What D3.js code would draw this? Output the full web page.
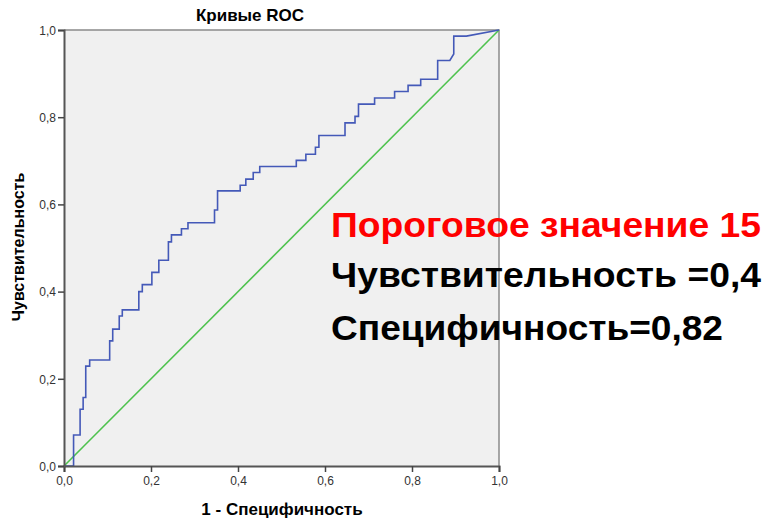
<!DOCTYPE html>
<html>
<head>
<meta charset="utf-8">
<script src="https://cdn.jsdelivr.net/npm/d3@7"></script>
<style>
  html, body { margin: 0; padding: 0; background: #fff; }
  svg { display: block; }
  text { font-family: "Liberation Sans", Arial, sans-serif; }
</style>
</head>
<body>
<svg id="chart" width="767" height="521"></svg>
<script>
// ROC curve coordinates: 1 - specificity (fpr) and sensitivity (tpr)
const fpr = [0, 0.022, 0.022, 0.037, 0.037, 0.044, 0.044, 0.050, 0.050, 0.059, 0.059,
  0.105, 0.105, 0.112, 0.112, 0.127, 0.127, 0.134, 0.134, 0.172, 0.172, 0.180, 0.180,
  0.202, 0.202, 0.218, 0.218, 0.240, 0.240, 0.247, 0.247, 0.270, 0.270, 0.285, 0.285,
  0.346, 0.346, 0.353, 0.353, 0.405, 0.405, 0.418, 0.418, 0.435, 0.435, 0.450, 0.450,
  0.534, 0.534, 0.556, 0.556, 0.578, 0.578, 0.586, 0.586, 0.646, 0.646, 0.669, 0.669,
  0.677, 0.677, 0.714, 0.714, 0.760, 0.760, 0.791, 0.791, 0.820, 0.820, 0.859, 0.859,
  0.887, 0.896, 0.896, 0.925, 1];
const tpr = [0, 0, 0.071, 0.071, 0.130, 0.130, 0.157, 0.157, 0.229, 0.229, 0.243,
  0.243, 0.287, 0.287, 0.314, 0.314, 0.344, 0.344, 0.358, 0.358, 0.400, 0.400, 0.416,
  0.416, 0.444, 0.444, 0.472, 0.472, 0.514, 0.514, 0.530, 0.530, 0.544, 0.544, 0.558,
  0.558, 0.587, 0.587, 0.631, 0.631, 0.644, 0.644, 0.658, 0.658, 0.673, 0.673, 0.687,
  0.687, 0.701, 0.701, 0.715, 0.715, 0.731, 0.731, 0.758, 0.758, 0.787, 0.787, 0.802,
  0.802, 0.830, 0.830, 0.844, 0.844, 0.859, 0.859, 0.873, 0.873, 0.887, 0.887, 0.930,
  0.930, 0.945, 0.986, 0.986, 1];
// Reference (chance) line
const refLine = [[0, 0], [1, 1]];
const tickValues = [0, 0.2, 0.4, 0.6, 0.8, 1.0];

const titleText = "Кривые ROC";
const xLabel = "1 - Специфичность";
const yLabel = "Чувствительность";
const notes = [
  { text: "Пороговое значение 15", color: "#ff0000" },
  { text: "Чувствительность =0,4", color: "#000000" },
  { text: "Специфичность=0,82", color: "#000000" }
];

const svg = d3.select("#chart");
const plot = { left: 64, right: 499, top: 30, bottom: 466 };

const x = d3.scaleLinear().domain([0, 1]).range([plot.left, plot.right]);
const y = d3.scaleLinear().domain([0, 1]).range([plot.bottom, plot.top]);
const fmt = d => d3.format(".1f")(d).replace(".", ",");

// plot background
svg.append("rect")
  .attr("x", plot.left).attr("y", plot.top)
  .attr("width", plot.right - plot.left).attr("height", plot.bottom - plot.top)
  .attr("fill", "#f0f0f0");

// top and right frame
svg.append("path")
  .attr("d", `M${plot.left},${plot.top}H${plot.right}V${plot.bottom}`)
  .attr("fill", "none").attr("stroke", "#8a8a8a").attr("stroke-width", 1.5);

// chance line
svg.append("path")
  .datum(refLine)
  .attr("d", d3.line().x(d => x(d[0])).y(d => y(d[1])))
  .attr("fill", "none").attr("stroke", "#4ec24e").attr("stroke-width", 1.6);

// ROC curve
const pts = fpr.map((f, i) => [f, tpr[i]]);
svg.append("path")
  .datum(pts)
  .attr("d", d3.line().x(d => x(d[0])).y(d => y(d[1])))
  .attr("fill", "none").attr("stroke", "#4459b8").attr("stroke-width", 1.6)
  .attr("stroke-linejoin", "miter");

// axes
const xAxis = svg.append("g")
  .attr("transform", `translate(0,${plot.bottom})`)
  .call(d3.axisBottom(x).tickValues(tickValues).tickFormat(fmt).tickSize(6).tickPadding(4));
const yAxis = svg.append("g")
  .attr("transform", `translate(${plot.left},0)`)
  .call(d3.axisLeft(y).tickValues(tickValues).tickFormat(fmt).tickSize(6).tickPadding(2));

[xAxis, yAxis].forEach(g => {
  g.select(".domain").attr("stroke", "#555").attr("stroke-width", 2);
  g.selectAll(".tick line").attr("stroke", "#444").attr("stroke-width", 1.5);
  g.selectAll(".tick text")
    .attr("fill", "#333")
    .style("font-family", "'Liberation Sans', Arial, sans-serif")
    .style("font-size", "12px");
});
yAxis.selectAll(".tick text").attr("dy", "0.35em");

// title and axis labels
svg.append("text")
  .attr("x", 250).attr("y", 21)
  .attr("text-anchor", "middle")
  .attr("font-weight", "bold").attr("font-size", 17)
  .text(titleText);

svg.append("text")
  .attr("x", 282).attr("y", 515)
  .attr("text-anchor", "middle")
  .attr("font-weight", "bold").attr("font-size", 17)
  .text(xLabel);

svg.append("text")
  .attr("transform", `translate(24,247) rotate(-90)`)
  .attr("text-anchor", "middle")
  .attr("font-weight", "bold").attr("font-size", 16)
  .text(yLabel);

// threshold annotation
const noteY = [237, 287, 340];
const noteW = [430, 430, 392];
svg.selectAll(".note")
  .data(notes)
  .join("text")
  .attr("class", "note")
  .attr("x", 331)
  .attr("y", (d, i) => noteY[i])
  .attr("font-weight", "bold").attr("font-size", 35)
  .attr("textLength", (d, i) => noteW[i])
  .attr("lengthAdjust", "spacingAndGlyphs")
  .attr("fill", d => d.color)
  .text(d => d.text);
</script>
</body>
</html>
